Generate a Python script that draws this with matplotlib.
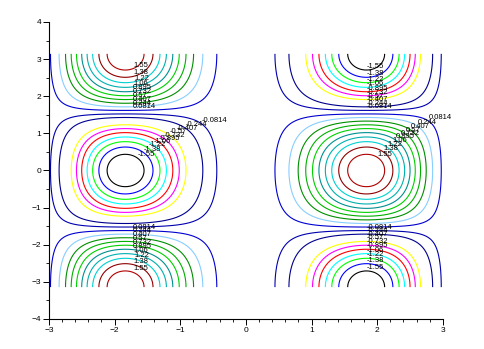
import numpy as np
import matplotlib
matplotlib.use("Agg")
import matplotlib.pyplot as plt
from matplotlib.ticker import MultipleLocator

plt.rcParams['font.family'] = ['Liberation Sans', 'DejaVu Sans']

# contour levels as printed on the chart
levels = [-1.55, -1.38, -1.22, -1.06, -0.895, -0.732, -0.57, -0.407, -0.244, -0.0814,
          0.0814, 0.244, 0.407, 0.57, 0.732, 0.895, 1.06, 1.22, 1.38, 1.55]

# scilab default colormap, entries 1..20 (one per level)
level_colors = ['#000000', '#0000ff', '#00ff00', '#00ffff', '#ff0000', '#ff00ff', '#ffff00',
                '#ffffff', '#00008f', '#0000b0', '#0000d1', '#87ceff', '#008f00', '#00b000',
                '#00d100', '#008f8f', '#00b0b0', '#00d1d1', '#8f0000', '#b00000']

# surface z = x*sin(x)^2*cos(y) on [-pi, pi] x [-pi, pi]
def my_surface(x, y):
    return x * np.sin(x) ** 2 * np.cos(y)

t = np.linspace(-np.pi, np.pi, 301)
X, Y = np.meshgrid(t, t)
Z = my_surface(X, Y)

fig = plt.figure(figsize=(4.84, 3.49), dpi=100)
ax = fig.add_axes([0.101, 0.086, 0.814, 0.851])

cs = ax.contour(X, Y, Z, levels=levels, colors=level_colors, linewidths=0.8)

# one label per contour piece, roughly where scilab put them
for lev, segs in zip(levels, cs.allsegs):
    for seg in segs:
        if len(seg) < 3:
            continue
        mx, my = seg[:, 0].mean(), seg[:, 1].mean()
        cx = 1.84 if mx > 0 else -1.84
        if abs(my) < np.pi / 2:
            k = np.argmax((seg[:, 0] - cx) + 0.8 * seg[:, 1])
        else:
            ax_x = 1.85 if mx > 0 else -1.71
            k = np.argmin(np.abs(seg[:, 0] - ax_x))
        ax.text(seg[k, 0], seg[k, 1], '%.3g' % lev, fontsize=5.5,
                ha='left', va='bottom', color='black')

ax.set_xlim(-3, 3)
ax.set_ylim(-4, 4)
ax.xaxis.set_major_locator(MultipleLocator(1))
ax.xaxis.set_minor_locator(MultipleLocator(0.2))
ax.yaxis.set_major_locator(MultipleLocator(1))
ax.yaxis.set_minor_locator(MultipleLocator(0.5))
ax.tick_params(which='major', length=4, width=0.7, labelsize=6, pad=1.5)
ax.tick_params(which='minor', length=2, width=0.6)
ax.spines['top'].set_visible(False)
ax.spines['right'].set_visible(False)
ax.spines['left'].set_linewidth(0.8)
ax.spines['bottom'].set_linewidth(0.8)

fig.savefig("out.png", dpi=100)
